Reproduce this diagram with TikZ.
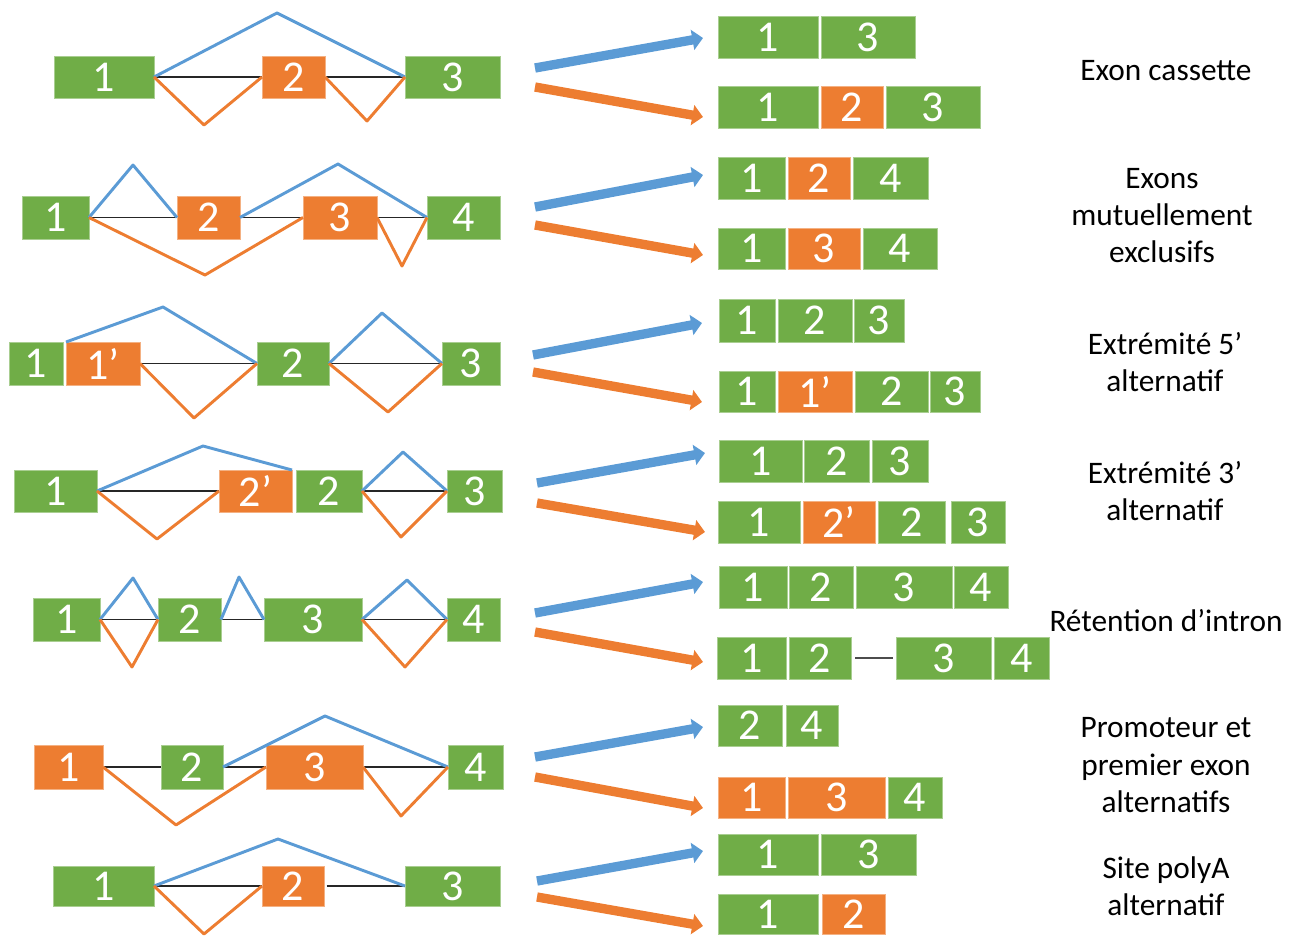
\documentclass[tikz,border=0pt]{standalone}
\usepackage{fontspec}
\setmainfont{Carlito}
\usetikzlibrary{arrows.meta,backgrounds}
\definecolor{exg}{HTML}{70AD47}
\definecolor{exo}{HTML}{ED7D31}
\definecolor{spb}{HTML}{5B9BD5}
\tikzset{
  exon/.style={rectangle, inner sep=0pt, outer sep=0pt, fill=#1, draw=#1!60!white,
    line width=0.5pt, text=white, font=\fontsize{33}{33}\selectfont},
  inc/.style={spb, line width=2.2pt, line join=round},
  skp/.style={exo, line width=2.2pt, line join=round},
  intr/.style={black!85, line width=1pt},
  barrow/.style={spb, line width=7pt, -{Triangle[length=8pt,width=15pt]}},
  oarrow/.style={exo, line width=7pt, -{Triangle[length=8pt,width=15pt]}},
  lab/.style={anchor=base, inner sep=0pt, font=\fontsize{23.5}{28}\selectfont, text=black}
}
\newcommand{\exbox}[7]{%
  \pgfmathsetmacro{\excx}{(#3+#5)/2}%
  \pgfmathsetmacro{\excy}{(#4+#6)/2}%
  \pgfmathsetlengthmacro{\exww}{(#5-#3)*0.75pt}%
  \pgfmathsetlengthmacro{\exhh}{(#6-#4)*0.75pt}%
  \node[exon=#2, minimum width=\exww, minimum height=\exhh] (#1) at (\excx,\excy) {#7};}
\begin{document}
\begin{tikzpicture}[x=0.75pt, y=-0.75pt]
\useasboundingbox (0,0) rectangle (1300,939);

% ---------- Row 1: Exon cassette ----------
\exbox{r1a}{exg}{54}{56}{154}{98}{1}
\exbox{r1b}{exo}{262}{56}{325}{98}{2}
\exbox{r1c}{exg}{405}{56}{500}{98}{3}
\coordinate (r1p) at (277,13);
\coordinate (r1v1) at (204,125);
\coordinate (r1v2) at (367,121);
\begin{scope}[on background layer]
\draw[intr] (r1a.east) -- (r1b.west) (r1b.east) -- (r1c.west);
\end{scope}
\draw[inc] (r1a.east) -- (r1p) -- (r1c.west);
\draw[skp] (r1a.east) -- (r1v1) -- (r1b.west);
\draw[skp] (r1b.east) -- (r1v2) -- (r1c.west);

\coordinate (a1bs) at (535,68);  \coordinate (a1be) at (703,38);
\coordinate (a1os) at (535,87);  \coordinate (a1oe) at (703,117);
\draw[barrow] (a1bs) -- (a1be);
\draw[oarrow] (a1os) -- (a1oe);
\exbox{t1a1}{exg}{718}{16}{818}{58}{1}
\exbox{t1a2}{exg}{821}{16}{915}{58}{3}
\exbox{t1b1}{exg}{718}{86}{818}{128}{1}
\exbox{t1b2}{exo}{821}{86}{883}{128}{2}
\exbox{t1b3}{exg}{886}{86}{980}{128}{3}
\node[lab] (L1) at (1166,80) {Exon cassette};

% ---------- Row 2: Exons mutuellement exclusifs ----------
\exbox{r2a}{exg}{22}{196}{89}{239}{1}
\exbox{r2b}{exo}{177}{196}{240}{239}{2}
\exbox{r2c}{exo}{303}{196}{377}{239}{3}
\exbox{r2d}{exg}{427}{196}{500}{239}{4}
\coordinate (r2p1) at (133,165);
\coordinate (r2p2) at (338,164);
\coordinate (r2v1) at (205,275);
\coordinate (r2v2) at (402,266);
\begin{scope}[on background layer]
\draw[intr] (r2a.east) -- (r2b.west) (r2b.east) -- (r2c.west) (r2c.east) -- (r2d.west);
\end{scope}
\draw[inc] (r2a.east) -- (r2p1) -- (r2b.west);
\draw[inc] (r2b.east) -- (r2p2) -- (r2d.west);
\draw[skp] (r2a.east) -- (r2v1) -- (r2c.west);
\draw[skp] (r2c.east) -- (r2v2) -- (r2d.west);

\coordinate (a2bs) at (535,207);  \coordinate (a2be) at (703,175);
\coordinate (a2os) at (535,225);  \coordinate (a2oe) at (703,255);
\draw[barrow] (a2bs) -- (a2be);
\draw[oarrow] (a2os) -- (a2oe);
\exbox{t2a1}{exg}{718}{157}{785}{199}{1}
\exbox{t2a2}{exo}{788}{157}{850}{199}{2}
\exbox{t2a3}{exg}{853}{157}{928}{199}{4}
\exbox{t2b1}{exg}{718}{228}{785}{269}{1}
\exbox{t2b2}{exo}{788}{228}{860}{269}{3}
\exbox{t2b3}{exg}{863}{228}{937}{269}{4}
\node[lab] (L2a) at (1162,188) {Exons};
\node[lab] (L2b) at (1162,225) {mutuellement};
\node[lab] (L2c) at (1162,262) {exclusifs};

% ---------- Row 3: Extremite 5' ----------
\exbox{r3a}{exg}{9}{342}{63}{385}{1}
\exbox{r3b}{exo}{66}{342}{140}{385}{1’}
\exbox{r3c}{exg}{257}{342}{329}{385}{2}
\exbox{r3d}{exg}{442}{342}{500}{385}{3}
\coordinate (r3p1) at (163,307);
\coordinate (r3p2) at (382,313);
\coordinate (r3v1) at (194,418);
\coordinate (r3v2) at (388,412);
\begin{scope}[on background layer]
\draw[intr] (r3b.east) -- (r3c.west) (r3c.east) -- (r3d.west);
\end{scope}
\draw[inc] (r3b.north west) -- (r3p1) -- (r3c.west);
\draw[inc] (r3c.east) -- (r3p2) -- (r3d.west);
\draw[skp] (r3b.east) -- (r3v1) -- (r3c.west);
\draw[skp] (r3c.east) -- (r3v2) -- (r3d.west);

\coordinate (a3bs) at (533,355);  \coordinate (a3be) at (702,323);
\coordinate (a3os) at (533,372);  \coordinate (a3oe) at (702,402);
\draw[barrow] (a3bs) -- (a3be);
\draw[oarrow] (a3os) -- (a3oe);
\exbox{t3a1}{exg}{719}{299}{775}{342}{1}
\exbox{t3a2}{exg}{778}{299}{852}{342}{2}
\exbox{t3a3}{exg}{854}{299}{904}{342}{3}
\exbox{t3b1}{exg}{719}{371}{775}{412}{1}
\exbox{t3b2}{exo}{778}{371}{852}{412}{1’}
\exbox{t3b3}{exg}{855}{371}{928}{412}{2}
\exbox{t3b4}{exg}{930}{371}{980}{412}{3}
\node[lab] (L3a) at (1165,354) {Extrémité 5’};
\node[lab] (L3b) at (1165,391) {alternatif};

% ---------- Row 4: Extremite 3' ----------
\exbox{r4a}{exg}{14}{470}{97}{512}{1}
\exbox{r4b}{exo}{219}{470}{292}{512}{2’}
\exbox{r4c}{exg}{296}{470}{362}{512}{2}
\exbox{r4d}{exg}{447}{470}{502}{512}{3}
\coordinate (r4p1) at (203,446);
\coordinate (r4p2) at (403,452);
\coordinate (r4v1) at (157,539);
\coordinate (r4v2) at (401,537);
\begin{scope}[on background layer]
\draw[intr] (r4a.east) -- (r4b.west) (r4c.east) -- (r4d.west);
\end{scope}
\draw[inc] (r4a.east) -- (r4p1) -- (r4b.north east);
\draw[inc] (r4c.east) -- (r4p2) -- (r4d.west);
\draw[skp] (r4a.east) -- (r4v1) -- (r4b.west);
\draw[skp] (r4c.east) -- (r4v2) -- (r4d.west);

\coordinate (a4bs) at (537,483);  \coordinate (a4be) at (705,453);
\coordinate (a4os) at (537,503);  \coordinate (a4oe) at (705,532);
\draw[barrow] (a4bs) -- (a4be);
\draw[oarrow] (a4os) -- (a4oe);
\exbox{t4a1}{exg}{719}{440}{802}{482}{1}
\exbox{t4a2}{exg}{804}{440}{869}{482}{2}
\exbox{t4a3}{exg}{872}{440}{928}{482}{3}
\exbox{t4b1}{exg}{718}{501}{800}{543}{1}
\exbox{t4b2}{exo}{803}{501}{875}{543}{2’}
\exbox{t4b3}{exg}{878}{501}{945}{543}{2}
\exbox{t4b4}{exg}{951}{501}{1005}{543}{3}
\node[lab] (L4a) at (1165,483) {Extrémité 3’};
\node[lab] (L4b) at (1165,520) {alternatif};

% ---------- Row 5: Retention d'intron ----------
\exbox{r5a}{exg}{33}{598}{100}{641}{1}
\exbox{r5b}{exg}{158}{598}{221}{641}{2}
\exbox{r5c}{exg}{264}{598}{362}{641}{3}
\exbox{r5d}{exg}{447}{598}{500}{641}{4}
\coordinate (r5p1) at (133,578);
\coordinate (r5p2) at (239,577);
\coordinate (r5p3) at (407,580);
\coordinate (r5v1) at (132,667);
\coordinate (r5v3) at (405,667);
\begin{scope}[on background layer]
\draw[intr] (r5a.east) -- (r5b.west) (r5b.east) -- (r5c.west) (r5c.east) -- (r5d.west);
\end{scope}
\draw[inc] (r5a.east) -- (r5p1) -- (r5b.west);
\draw[inc] (r5b.east) -- (r5p2) -- (r5c.west);
\draw[inc] (r5c.east) -- (r5p3) -- (r5d.west);
\draw[skp] (r5a.east) -- (r5v1) -- (r5b.west);
\draw[skp] (r5c.east) -- (r5v3) -- (r5d.west);

\coordinate (a5bs) at (535,613);  \coordinate (a5be) at (703,582);
\coordinate (a5os) at (535,632);  \coordinate (a5oe) at (703,662);
\draw[barrow] (a5bs) -- (a5be);
\draw[oarrow] (a5os) -- (a5oe);
\exbox{t5a1}{exg}{719}{566}{787}{608}{1}
\exbox{t5a2}{exg}{789}{566}{853}{608}{2}
\exbox{t5a3}{exg}{856}{566}{952}{608}{3}
\exbox{t5a4}{exg}{954}{566}{1008}{608}{4}
\exbox{t5b1}{exg}{717}{637}{786}{679}{1}
\exbox{t5b2}{exg}{789}{637}{851}{679}{2}
\exbox{t5b3}{exg}{896}{637}{991}{679}{3}
\exbox{t5b4}{exg}{994}{637}{1049}{679}{4}
\draw[black!70, line width=1pt, shorten <=3pt, shorten >=2pt] (t5b2.east) -- (t5b3.west);
\node[lab] (L5) at (1166,631) {Rétention d’intron};

% ---------- Row 6: Promoteur et premier exon alternatifs ----------
\exbox{r6a}{exo}{34}{745}{103}{789}{1}
\exbox{r6b}{exg}{161}{745}{223}{789}{2}
\exbox{r6c}{exo}{266}{745}{363}{789}{3}
\exbox{r6d}{exg}{448}{745}{503}{789}{4}
\coordinate (r6p) at (325,716);
\coordinate (r6v1) at (176,825);
\coordinate (r6v2) at (401,816);
\begin{scope}[on background layer]
\draw[intr] (r6a.east) -- (r6b.west) (r6b.east) -- (r6c.west) (r6c.east) -- (r6d.west);
\end{scope}
\draw[inc] (r6b.east) -- (r6p) -- (r6d.west);
\draw[skp] (r6a.east) -- (r6v1) -- (r6c.west);
\draw[skp] (r6c.east) -- (r6v2) -- (r6d.west);

\coordinate (a6bs) at (535,757);  \coordinate (a6be) at (703,727);
\coordinate (a6os) at (535,777);  \coordinate (a6oe) at (703,808);
\draw[barrow] (a6bs) -- (a6be);
\draw[oarrow] (a6os) -- (a6oe);
\exbox{t6a1}{exg}{718}{705}{782}{746}{2}
\exbox{t6a2}{exg}{786}{705}{838}{746}{4}
\exbox{t6b1}{exo}{718}{777}{785}{818}{1}
\exbox{t6b2}{exo}{788}{777}{885}{818}{3}
\exbox{t6b3}{exg}{888}{777}{942}{818}{4}
\node[lab] (L6a) at (1166,737) {Promoteur et};
\node[lab] (L6b) at (1166,775) {premier exon};
\node[lab] (L6c) at (1166,812) {alternatifs};

% ---------- Row 7: Site polyA alternatif ----------
\exbox{r7a}{exg}{53}{866}{154}{906}{1}
\exbox{r7b}{exo}{262}{866}{324}{906}{2}
\exbox{r7c}{exg}{405}{866}{500}{906}{3}
\coordinate (r7p) at (278,839);
\coordinate (r7v) at (204,934);
\begin{scope}[on background layer]
\draw[intr] (r7a.east) -- (r7b.west);
\draw[intr, shorten <=2pt] (r7b.east) -- (r7c.west);
\end{scope}
\draw[inc] (r7a.east) -- (r7p) -- (r7c.west);
\draw[skp] (r7a.east) -- (r7v) -- (r7b.west);

\coordinate (a7bs) at (537,881);  \coordinate (a7be) at (703,851);
\coordinate (a7os) at (537,897);  \coordinate (a7oe) at (703,926);
\draw[barrow] (a7bs) -- (a7be);
\draw[oarrow] (a7os) -- (a7oe);
\exbox{t7a1}{exg}{718}{834}{818}{875}{1}
\exbox{t7a2}{exg}{821}{834}{916}{875}{3}
\exbox{t7b1}{exg}{718}{894}{818}{934}{1}
\exbox{t7b2}{exo}{822}{894}{885}{934}{2}
\node[lab] (L7a) at (1166,878) {Site polyA};
\node[lab] (L7b) at (1166,915) {alternatif};
\end{tikzpicture}
\end{document}
